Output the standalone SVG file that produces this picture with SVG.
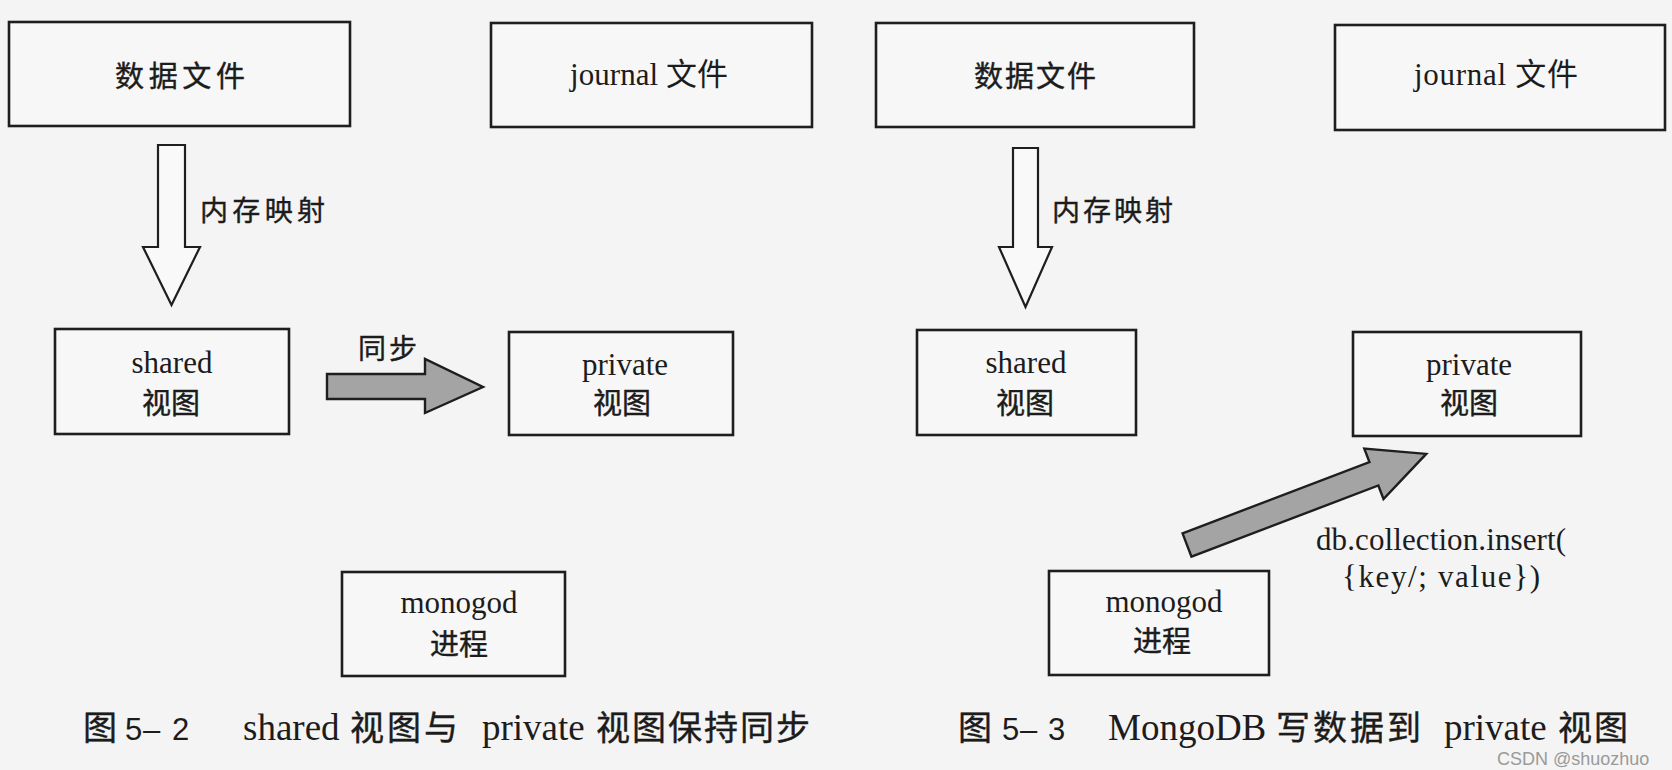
<svg xmlns="http://www.w3.org/2000/svg" width="1672" height="770" viewBox="0 0 1672 770">
<style>
.box{fill:#f7f7f7;stroke:#1e1e1e;stroke-width:2.6}
.t{font-family:'Liberation Serif','Noto Sans CJK SC',serif;font-size:31px;fill:#1c1c1c;text-anchor:middle}
.c{font-family:'Noto Sans CJK SC','Liberation Serif',sans-serif;font-size:29px;fill:#1c1c1c;stroke:#1c1c1c;stroke-width:0.4;text-anchor:middle}
.lbl{font-family:'Noto Sans CJK SC',sans-serif;font-size:28px;fill:#1c1c1c;stroke:#1c1c1c;stroke-width:0.4}
.hollow{fill:#f9f9f9;stroke:#1e1e1e;stroke-width:2.2;stroke-linejoin:miter}
.solid{fill:#a4a4a4;stroke:#1e1e1e;stroke-width:2.4;stroke-linejoin:miter}
.cap{font-family:'Liberation Serif','Noto Sans CJK SC',serif;font-size:37px;fill:#1c1c1c}
.capc{font-family:'Noto Sans CJK SC',sans-serif;font-size:34px;stroke:#1c1c1c;stroke-width:0.4}
.num{font-family:'Liberation Sans',sans-serif;font-size:31px}
</style>
<rect x="0" y="0" width="1672" height="770" fill="#f4f4f4"/>

<g id="connectors">
  <polygon id="map1" class="hollow" points="158,145 185,145 185,247 200,247 171.5,305 143,247 158,247"/>
  <text class="lbl" x="200" y="221" textLength="125">内存映射</text>
  <polygon id="sync" class="solid" points="327,374 425,374 425,359 483,387 425,413 425,399 327,399"/>
  <text class="lbl" x="358" y="359" textLength="59">同步</text>
  <polygon id="map2" class="hollow" points="1013,148 1038,148 1038,247 1052,247 1025.5,307 999,247 1013,247"/>
  <text class="lbl" x="1052" y="221" textLength="121">内存映射</text>
  <polygon id="insert" class="solid" transform="translate(1187,545) rotate(-20.85)" points="0,-12.5 200,-12.5 200,-27 256,0 200,27 200,12.5 0,12.5"/>
  <text class="t" x="1441" y="550" textLength="250">db.collection.insert(</text>
  <text class="t" x="1441" y="587" textLength="198">{key/; value})</text>
</g>

<g id="datafile1">
  <rect class="box" x="9" y="22" width="341" height="104"/>
  <text class="c" x="180" y="87" textLength="130">数据文件</text>
</g>
<g id="journal1">
  <rect class="box" x="491" y="23" width="321" height="104"/>
  <text class="t" x="649" y="85" textLength="158">journal 文件</text>
</g>
<g id="shared1">
  <rect class="box" x="55" y="329" width="234" height="105"/>
  <text class="t" x="172" y="373">shared</text>
  <text class="c" x="171" y="414">视图</text>
</g>
<g id="private1">
  <rect class="box" x="509" y="332" width="224" height="103"/>
  <text class="t" x="625" y="375">private</text>
  <text class="c" x="622" y="414">视图</text>
</g>
<g id="mongod1">
  <rect class="box" x="342" y="572" width="223" height="104"/>
  <text class="t" x="459" y="613">monogod</text>
  <text class="c" x="459" y="655">进程</text>
</g>

<g id="datafile2">
  <rect class="box" x="876" y="23" width="318" height="104"/>
  <text class="c" x="1035" y="87" textLength="122">数据文件</text>
</g>
<g id="journal2">
  <rect class="box" x="1335" y="25" width="330" height="105"/>
  <text class="t" x="1496" y="85" textLength="164">journal 文件</text>
</g>
<g id="shared2">
  <rect class="box" x="917" y="330" width="219" height="105"/>
  <text class="t" x="1026" y="373">shared</text>
  <text class="c" x="1025" y="414">视图</text>
</g>
<g id="private2">
  <rect class="box" x="1353" y="332" width="228" height="104"/>
  <text class="t" x="1469" y="375">private</text>
  <text class="c" x="1469" y="414">视图</text>
</g>
<g id="mongod2">
  <rect class="box" x="1049" y="571" width="220" height="104"/>
  <text class="t" x="1164" y="612">monogod</text>
  <text class="c" x="1162" y="652">进程</text>
</g>

<g id="caption1">
  <text class="cap" y="740"><tspan class="capc" x="83">图</tspan> <tspan class="num" x="125 143 172">5–2</tspan> <tspan x="243">shared</tspan> <tspan class="capc" x="350" style="letter-spacing:3px">视图与</tspan> <tspan x="482">private</tspan> <tspan class="capc" x="596" style="letter-spacing:2px">视图保持同步</tspan></text>
</g>
<g id="caption2">
  <text class="cap" y="740"><tspan class="capc" x="958">图</tspan> <tspan class="num" x="1002 1020 1048">5–3</tspan> <tspan x="1108">MongoDB</tspan> <tspan class="capc" x="1276" style="letter-spacing:3px">写数据到</tspan> <tspan x="1444">private</tspan> <tspan class="capc" x="1558" style="letter-spacing:2px">视图</tspan></text>
</g>
<text x="1497" y="765" font-family="'Liberation Sans',sans-serif" font-size="18" fill="#9a9a9a">CSDN @shuozhuo</text>
</svg>
